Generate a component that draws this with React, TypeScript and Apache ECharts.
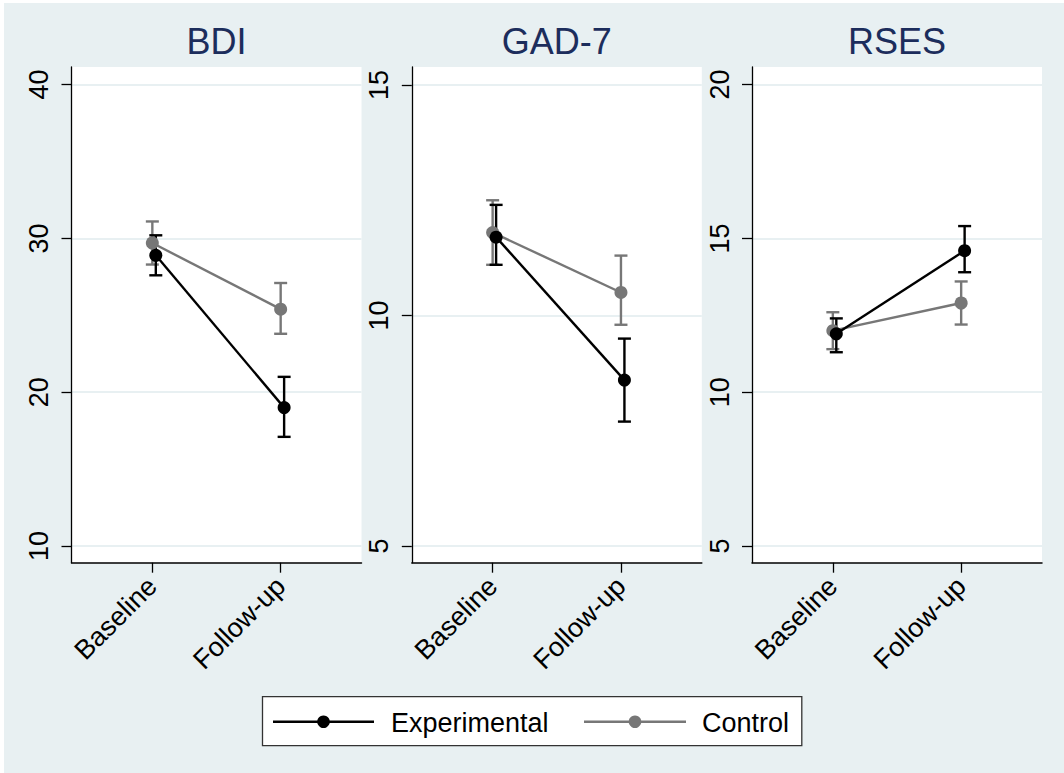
import React, { useEffect, useRef } from "react";
import * as echarts from "echarts";

// ---- data ----
const categories = ["Baseline", "Follow-up"];
const panelTitles = ["BDI", "GAD-7", "RSES"];
const groupNames = ["Experimental", "Control"];

const bdiTicks = [10, 20, 30, 40];
const gadTicks = [5, 10, 15];
const rsesTicks = [5, 10, 15, 20];

const bdiExpMean = [28.9, 19.0];
const bdiExpLow = [27.6, 17.1];
const bdiExpHigh = [30.2, 21.0];
const bdiCtrlMean = [29.7, 25.4];
const bdiCtrlLow = [28.3, 23.8];
const bdiCtrlHigh = [31.1, 27.1];

const gadExpMean = [11.7, 8.6];
const gadExpLow = [11.1, 7.7];
const gadExpHigh = [12.4, 9.5];
const gadCtrlMean = [11.8, 10.5];
const gadCtrlLow = [11.1, 9.8];
const gadCtrlHigh = [12.5, 11.3];

const rsesExpMean = [11.9, 14.6];
const rsesExpLow = [11.3, 13.9];
const rsesExpHigh = [12.4, 15.4];
const rsesCtrlMean = [12.0, 12.9];
const rsesCtrlLow = [11.4, 12.2];
const rsesCtrlHigh = [12.6, 13.6];

// ---- style / layout ----
const FONT = "'Liberation Sans', Arial, sans-serif";
const BG = "#e8f0f2";
const TITLE_COLOR = "#1c2d5c";
const EXP_COLOR = "#000000";
const CTRL_COLOR = "#777777";
const EXP_SHIFT = 0.027;
const CTRL_SHIFT = 0;
const LINE_W = 2.4;

const panels = [
  {
    title: panelTitles[0], ticks: bdiTicks, yMin: 8.92, yMax: 41.14, left: 71.5,
    exp: [bdiExpMean, bdiExpLow, bdiExpHigh], ctrl: [bdiCtrlMean, bdiCtrlLow, bdiCtrlHigh],
  },
  {
    title: panelTitles[1], ticks: gadTicks, yMin: 4.64, yMax: 15.39, left: 411.8,
    exp: [gadExpMean, gadExpLow, gadExpHigh], ctrl: [gadCtrlMean, gadCtrlLow, gadCtrlHigh],
  },
  {
    title: panelTitles[2], ticks: rsesTicks, yMin: 4.46, yMax: 20.57, left: 752,
    exp: [rsesExpMean, rsesExpLow, rsesExpHigh], ctrl: [rsesCtrlMean, rsesCtrlLow, rsesCtrlHigh],
  },
];
const GRID_W = 290;
const GRID_TOP = 67;
const GRID_BOTTOM_Y = 562.7;

function errorBarRender(color: string) {
  return (params: any, api: any) => {
    const x = api.value(0);
    const lo = api.value(1);
    const hi = api.value(2);
    const pHi = api.coord([x, hi]);
    const pLo = api.coord([x, lo]);
    const hw = 6.5;
    const st = { stroke: color, lineWidth: LINE_W };
    return {
      type: "group",
      children: [
        { type: "line", shape: { x1: pHi[0], y1: pHi[1], x2: pLo[0], y2: pLo[1] }, style: st },
        { type: "line", shape: { x1: pHi[0] - hw, y1: pHi[1], x2: pHi[0] + hw, y2: pHi[1] }, style: st },
        { type: "line", shape: { x1: pLo[0] - hw, y1: pLo[1], x2: pLo[0] + hw, y2: pLo[1] }, style: st },
      ],
    };
  };
}

function buildOption() {
  const grid: any[] = [];
  const xAxis: any[] = [];
  const yAxis: any[] = [];
  const series: any[] = [];
  const graphic: any[] = [];

  panels.forEach((p, i) => {
    grid.push({
      left: p.left, width: GRID_W, top: GRID_TOP, height: GRID_BOTTOM_Y - GRID_TOP,
      show: true, backgroundColor: "#ffffff", borderWidth: 0, containLabel: false,
    });
    xAxis.push({
      type: "value", gridIndex: i, min: 0.37, max: 2.63,
      axisLine: { show: true, onZero: false, lineStyle: { color: "#000", width: 1.5 } },
      axisTick: { show: true, length: 10, lineStyle: { color: "#000", width: 1.3 }, customValues: [1, 2] },
      axisLabel: {
        show: true, rotate: 45, fontSize: 27, fontFamily: FONT, color: "#000", margin: 19,
        customValues: [1, 2],
        formatter: (v: number) => categories[Math.round(v) - 1] ?? "",
      },
      splitLine: { show: false },
    });
    yAxis.push({
      type: "value", gridIndex: i, min: p.yMin, max: p.yMax,
      axisLine: { show: true, onZero: false, lineStyle: { color: "#000", width: 1.3 } },
      axisTick: { show: true, length: 10, lineStyle: { color: "#000", width: 1.3 }, customValues: p.ticks },
      axisLabel: {
        show: true, rotate: 90, fontSize: 27, fontFamily: FONT, color: "#000", margin: 19,
        customValues: p.ticks,
      },
      splitLine: { show: true, lineStyle: { color: BG, width: 2 } },
    });

    const groups = [
      { name: groupNames[1], data: p.ctrl, color: CTRL_COLOR, shift: CTRL_SHIFT },
      { name: groupNames[0], data: p.exp, color: EXP_COLOR, shift: EXP_SHIFT },
    ];
    groups.forEach((g) => {
      const [mean, low, high] = g.data;
      series.push({
        type: "custom", name: g.name, xAxisIndex: i, yAxisIndex: i,
        renderItem: errorBarRender(g.color),
        encode: { x: 0, y: [1, 2] },
        data: categories.map((_, k) => [k + 1 + g.shift, low[k], high[k]]),
        silent: true,
      });
      series.push({
        type: "line", name: g.name, xAxisIndex: i, yAxisIndex: i,
        data: categories.map((_, k) => [k + 1 + g.shift, mean[k]]),
        symbol: "circle", symbolSize: 13,
        itemStyle: { color: g.color },
        lineStyle: { color: g.color, width: LINE_W },
        silent: true,
      });
    });

    graphic.push({
      type: "text", x: p.left + GRID_W / 2, y: 41,
      style: {
        text: p.title, align: "center", verticalAlign: "middle",
        fontSize: 36, fontFamily: FONT, fill: TITLE_COLOR,
      },
    });
  });

  // legend box
  const ly = 721.7;
  graphic.push({
    type: "rect", shape: { x: 262.5, y: 696.7, width: 539.3, height: 49 },
    style: { fill: "#ffffff", stroke: "#333333", lineWidth: 1.3 },
  });
  const legendItems = [
    { name: groupNames[0], color: EXP_COLOR, x1: 273, x2: 374, tx: 391 },
    { name: groupNames[1], color: CTRL_COLOR, x1: 584, x2: 686, tx: 702 },
  ];
  legendItems.forEach((it) => {
    graphic.push({
      type: "line", shape: { x1: it.x1, y1: ly, x2: it.x2, y2: ly },
      style: { stroke: it.color, lineWidth: LINE_W },
    });
    graphic.push({
      type: "circle", shape: { cx: (it.x1 + it.x2) / 2, cy: ly, r: 6.3 },
      style: { fill: it.color },
    });
    graphic.push({
      type: "text", x: it.tx, y: ly + 1,
      style: {
        text: it.name, align: "left", verticalAlign: "middle",
        fontSize: 27, fontFamily: FONT, fill: "#000",
      },
    });
  });

  return {
    animation: false,
    backgroundColor: "transparent",
    grid, xAxis, yAxis, series, graphic,
  };
}

export default function App() {
  const ref = useRef<HTMLDivElement>(null);
  useEffect(() => {
    if (!ref.current) return;
    const chart = echarts.init(ref.current, undefined, { renderer: "svg" });
    chart.setOption(buildOption() as any);
    return () => chart.dispose();
  }, []);
  return (
    <div style={{ position: "fixed", left: 0, top: 0, width: 1064, height: 773, background: "#ffffff", overflow: "hidden" }}>
      <div style={{ position: "absolute", left: 4, top: 3, width: 1060, height: 770, background: BG }} />
      <div ref={ref} style={{ position: "absolute", left: 0, top: 0, width: 1064, height: 773 }} />
    </div>
  );
}
